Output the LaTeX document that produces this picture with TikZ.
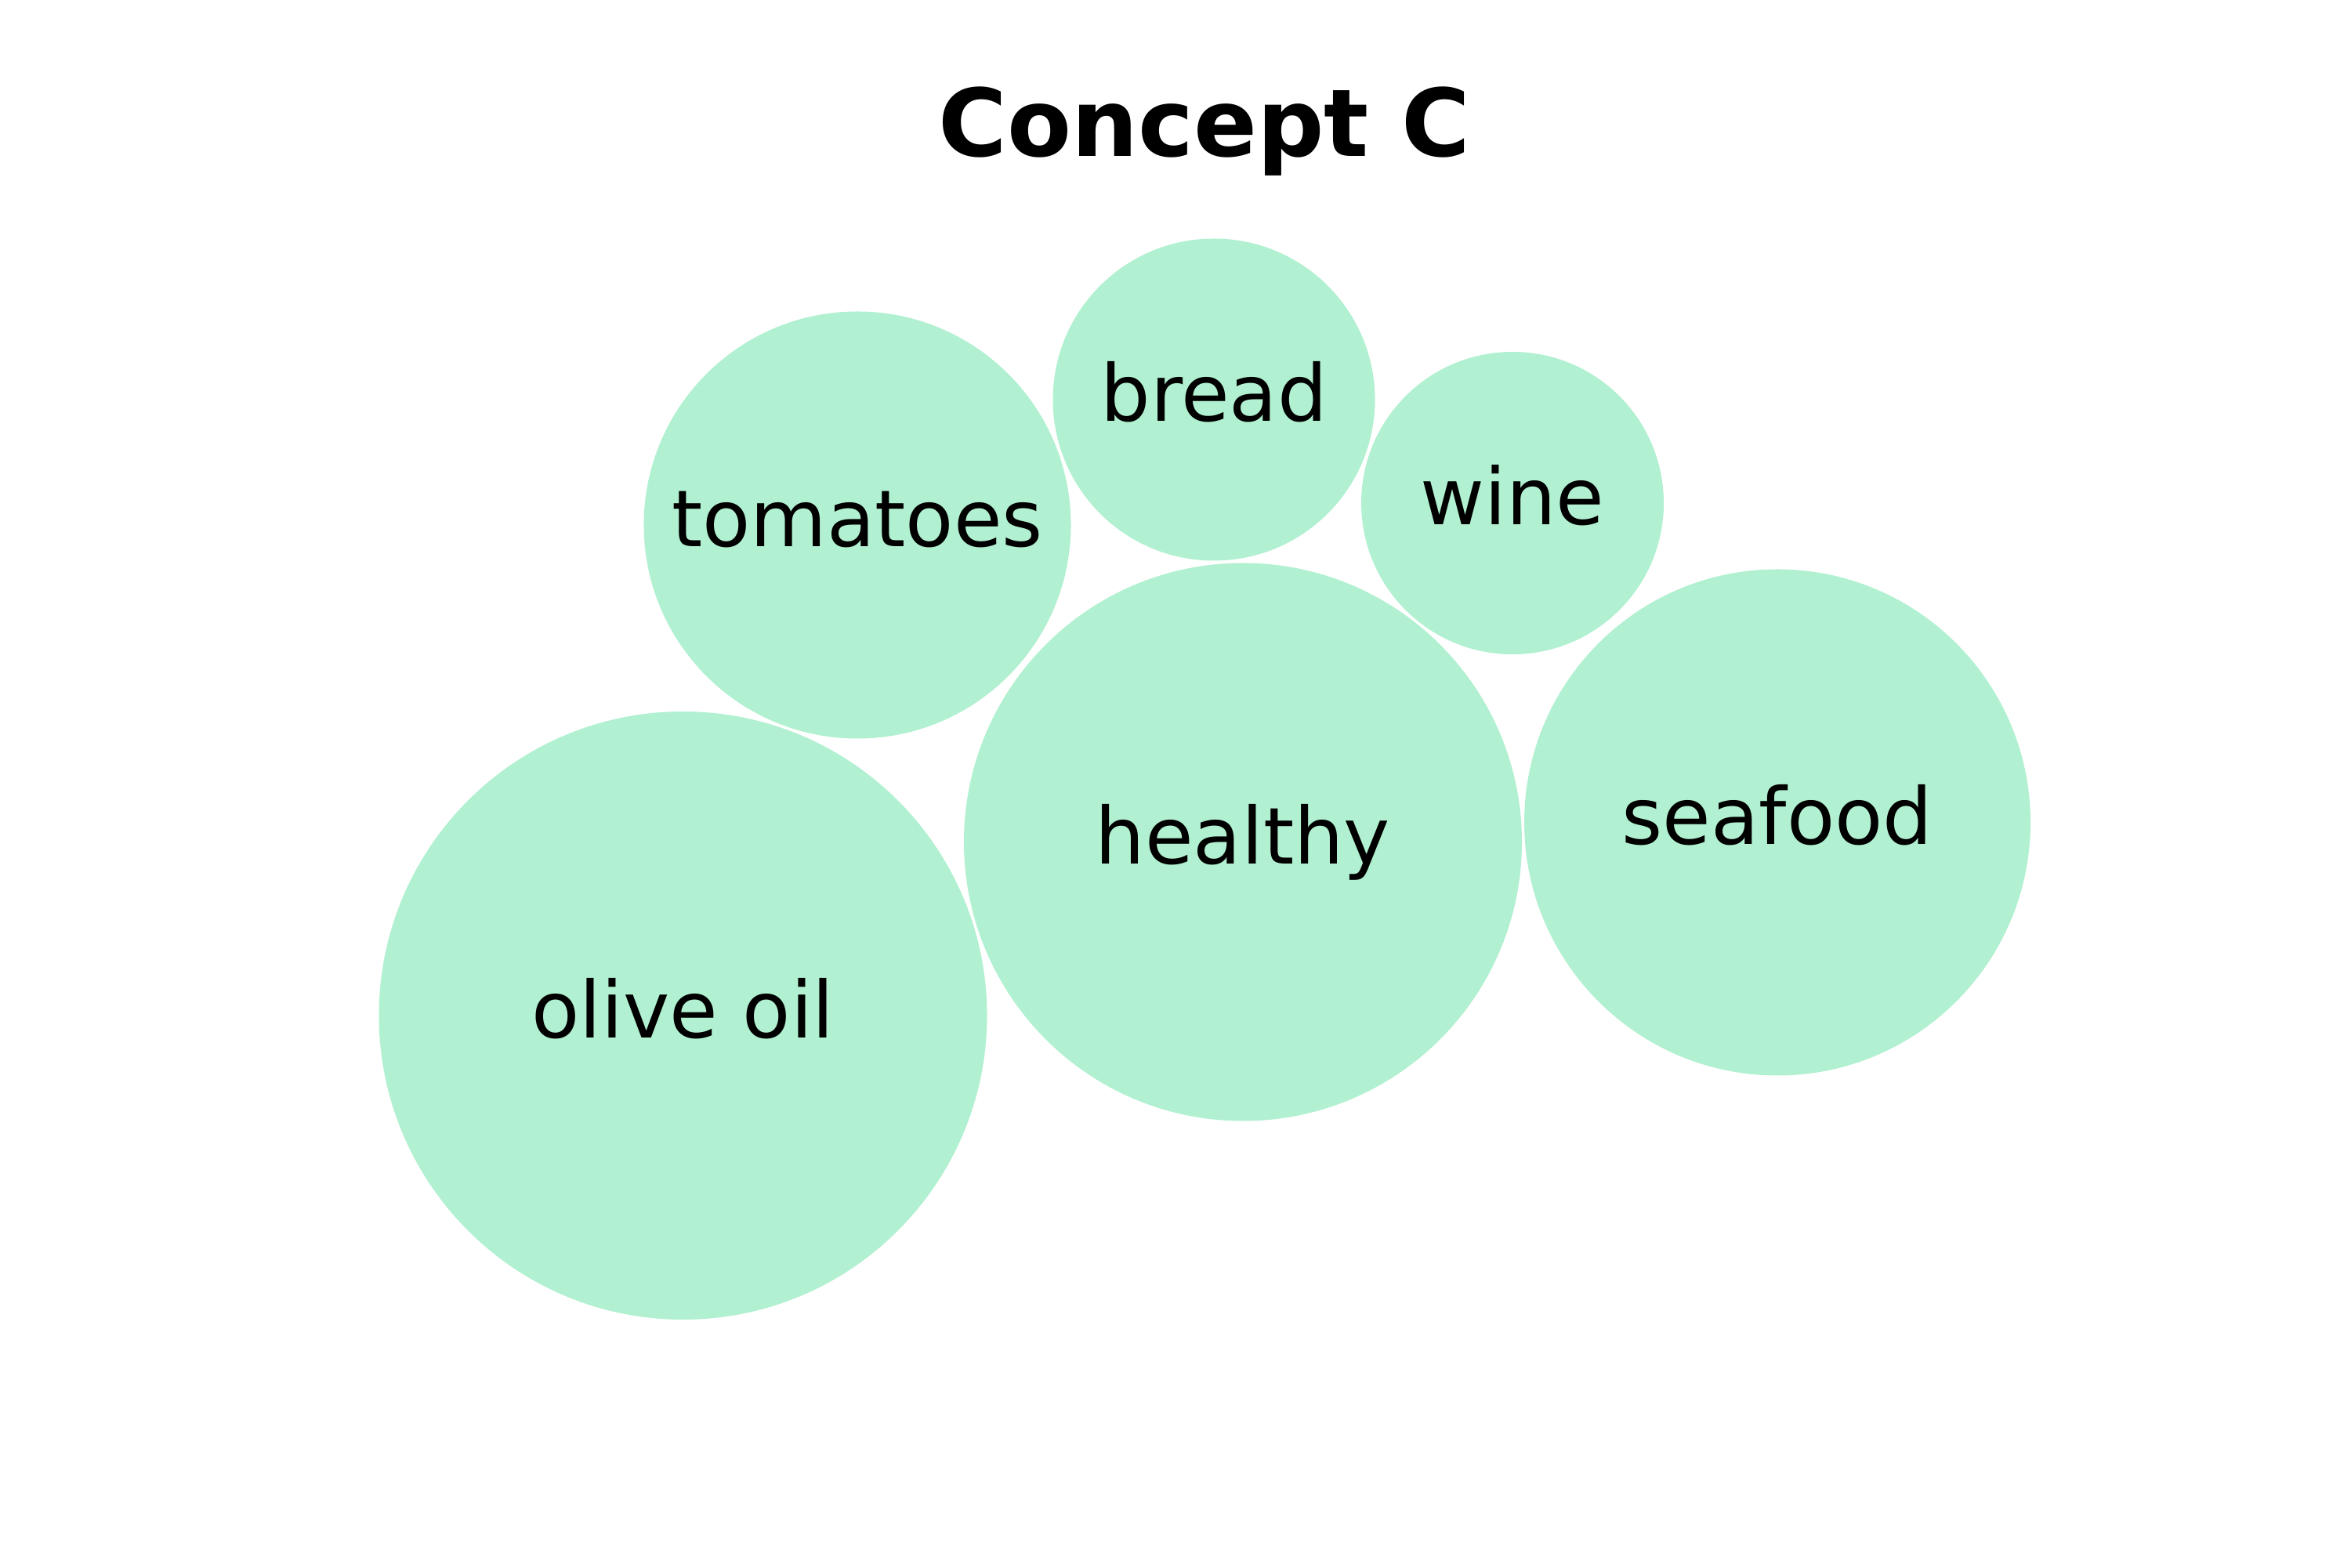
\documentclass[tikz,border=0pt]{standalone}
\usepackage{fontspec}
\setmainfont{DejaVu Sans}
\usetikzlibrary{positioning}

\definecolor{mint}{RGB}{177,240,208}

\begin{document}
\begin{tikzpicture}[
    bubble/.style={circle, fill=mint, draw=none, inner sep=0pt},
    word/.style={anchor=base, inner sep=0pt, font=\fontsize{28.5}{34}\selectfont},
    heading/.style={anchor=base, inner sep=0pt, font=\fontsize{34}{40}\selectfont\bfseries}
    ]

    \useasboundingbox (0,0) rectangle (30,20);

    \node[heading] (title) at (15.37,18.0) {Concept C};

    \node[bubble, minimum size=77.6mm] (olive_oil) at (8.715,7.04) {};
    \node[bubble, minimum size=54.5mm] (tomatoes) at (10.94,13.30) {};
    \node[bubble, minimum size=41.1mm] (bread) at (15.49,14.90) {};
    \node[bubble, minimum size=38.6mm] (wine) at (19.30,13.58) {};
    \node[bubble, minimum size=71.2mm] (healthy) at (15.86,9.255) {};
    \node[bubble, minimum size=64.6mm] (seafood) at (22.68,9.505) {};

    \node[word] (w_olive_oil) at ([yshift=-2.8mm]olive_oil.center) {olive oil};
    \node[word] (w_tomatoes) at ([yshift=-2.8mm]tomatoes.center) {tomatoes};
    \node[word] (w_bread) at ([yshift=-2.8mm]bread.center) {bread};
    \node[word] (w_wine) at ([yshift=-2.8mm]wine.center) {wine};
    \node[word] (w_healthy) at ([yshift=-2.8mm]healthy.center) {healthy};
    \node[word] (w_seafood) at ([yshift=-2.8mm]seafood.center) {seafood};
\end{tikzpicture}
\end{document}
